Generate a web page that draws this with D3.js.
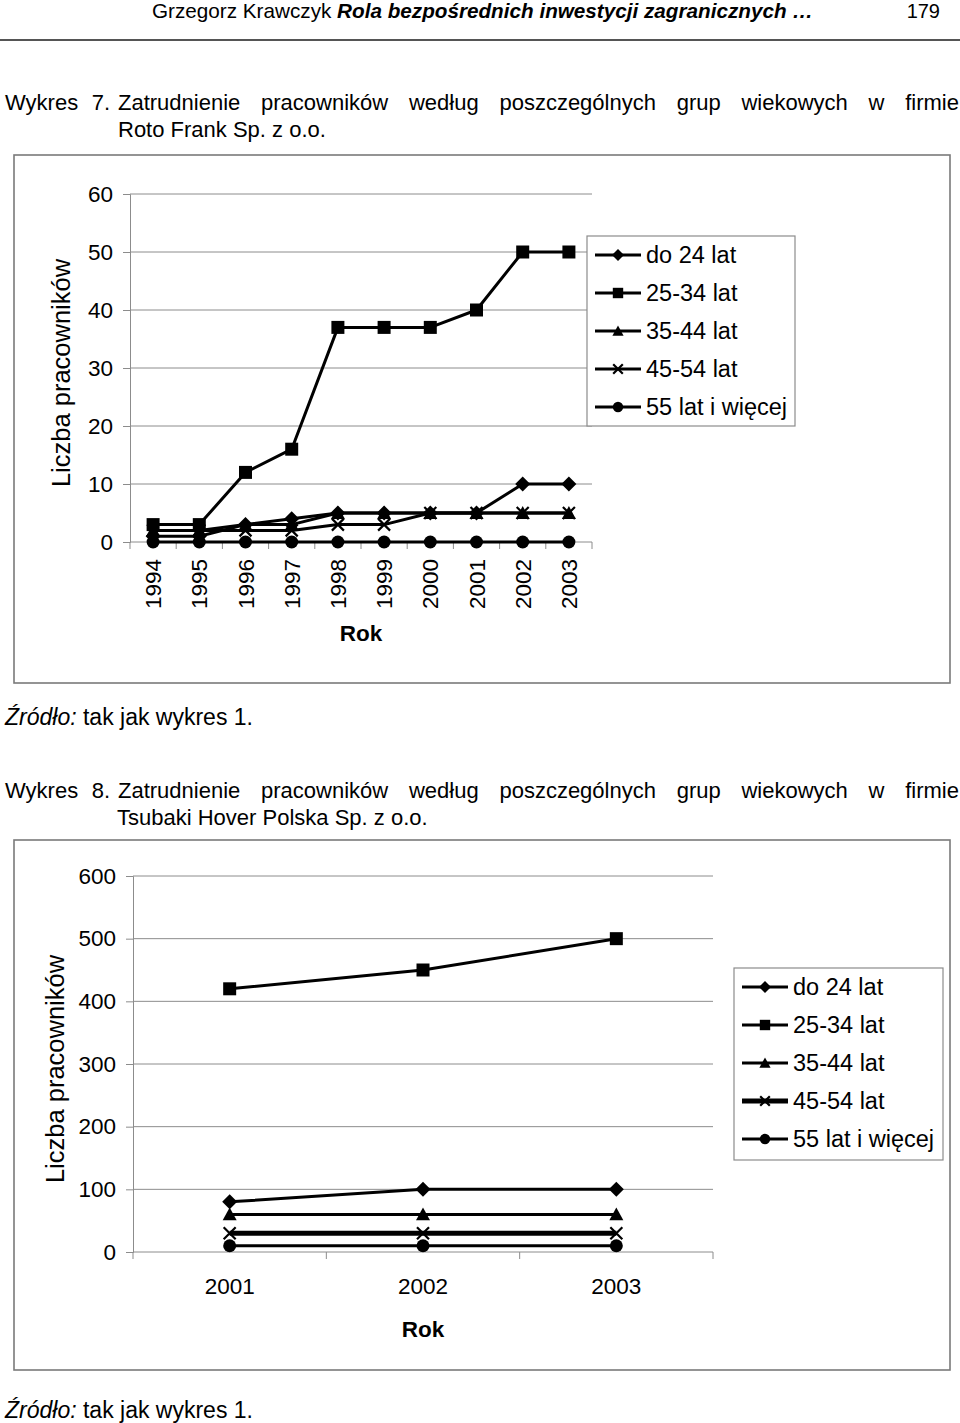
<!DOCTYPE html>
<html>
<head lang="pl">
  <meta charset="UTF-8">
  <title>Wykres 7 i 8</title>
</head>
<style>
  body { margin: 0; background: #fff; }
  svg text { font-family: "Liberation Sans", Arial, Helvetica, sans-serif; fill: #000; }
  .grid line { stroke: #8c8c8c; stroke-width: 1; }
  .axis path, .axis line { stroke: #8c8c8c; stroke-width: 1; }
  .frame { fill: none; stroke: #7a7a7a; stroke-width: 1.6; }
  .series { fill: none; stroke: #000; stroke-width: 3; stroke-linejoin: round; }
</style>
<body>

<svg id="page" width="960" height="1423"></svg>

<script src="https://cdn.jsdelivr.net/npm/d3@7"></script>
<script>
  // --- data ---
  var seriesNames = ['do 24 lat', '25-34 lat', '35-44 lat', '45-54 lat', '55 lat i więcej'];
  var markerTypes = ['diamond', 'square', 'triangle', 'x', 'circle'];

  // Wykres 7: Roto Frank
  var years7 = ['1994', '1995', '1996', '1997', '1998', '1999', '2000', '2001', '2002', '2003'];
  var do24_7   = [1, 1, 3, 4, 5, 5, 5, 5, 10, 10];
  var a2534_7  = [3, 3, 12, 16, 37, 37, 37, 40, 50, 50];
  var a3544_7  = [2, 2, 3, 3, 5, 5, 5, 5, 5, 5];
  var a4554_7  = [2, 2, 2, 2, 3, 3, 5, 5, 5, 5];
  var a55_7    = [0, 0, 0, 0, 0, 0, 0, 0, 0, 0];
  var yTicks7  = [0, 10, 20, 30, 40, 50, 60];

  // Wykres 8: Tsubaki Hover Polska
  var years8 = ['2001', '2002', '2003'];
  var do24_8   = [80, 100, 100];
  var a2534_8  = [420, 450, 500];
  var a3544_8  = [60, 60, 60];
  var a4554_8  = [30, 30, 30];
  var a55_8    = [10, 10, 10];
  var yTicks8  = [0, 100, 200, 300, 400, 500, 600];

  var svg = d3.select('#page');

  // --- page text ---
  var head = svg.append('text').attr('x', 152).attr('y', 18).style('font-size', '20.7px');
  head.append('tspan').text('Grzegorz Krawczyk ');
  head.append('tspan').style('font-weight', 'bold').style('font-style', 'italic')
    .text('Rola bezpośrednich inwestycji zagranicznych …');
  svg.append('text').attr('x', 940).attr('y', 18).attr('text-anchor', 'end')
    .style('font-size', '20px').text('179');
  svg.append('line').attr('x1', 0).attr('x2', 960).attr('y1', 40).attr('y2', 40)
    .attr('stroke', '#555').attr('stroke-width', 2);

  title(svg, 'Wykres 7.', 'Zatrudnienie pracowników według poszczególnych grup wiekowych w firmie', 110);
  svg.append('text').attr('x', 118).attr('y', 137).style('font-size', '22px').text('Roto Frank Sp. z o.o.');
  source(svg, 725);

  title(svg, 'Wykres 8.', 'Zatrudnienie pracowników według poszczególnych grup wiekowych w firmie', 798);
  svg.append('text').attr('x', 117).attr('y', 825).style('font-size', '22px').text('Tsubaki Hover Polska Sp. z o.o.');
  source(svg, 1418);

  // --- charts ---
  drawChart({
    frame: [14, 155, 950, 683],
    x0: 130, x1: 592, yTop: 194, yBottom: 542,
    cats: years7, ticks: yTicks7,
    values: [do24_7, a2534_7, a3544_7, a4554_7, a55_7],
    widths: [3, 3, 3, 3, 3],
    rotate: true, rokY: 641,
    yLabelX: 70, legend: [587, 236, 208, 190]
  });

  drawChart({
    frame: [14, 840, 950, 1370],
    x0: 133, x1: 713, yTop: 876, yBottom: 1252,
    cats: years8, ticks: yTicks8,
    values: [do24_8, a2534_8, a3544_8, a4554_8, a55_8],
    widths: [3, 3, 3, 5, 3],
    rotate: false, rokY: 1337,
    yLabelX: 64, legend: [734, 968, 209, 192]
  });

  function drawChart(c) {
    var g = svg.append('g');
    g.append('rect').attr('class', 'frame')
      .attr('x', c.frame[0]).attr('y', c.frame[1])
      .attr('width', c.frame[2] - c.frame[0]).attr('height', c.frame[3] - c.frame[1]);

    var x = d3.scaleBand().domain(c.cats).range([c.x0, c.x1]).padding(0);
    var y = d3.scaleLinear().domain([0, d3.max(c.ticks)]).range([c.yBottom, c.yTop]);
    var cx = function(d) { return x(d) + x.bandwidth() / 2; };

    // gridlines
    g.append('g').attr('class', 'grid').selectAll('line')
      .data(c.ticks.slice(1)).enter().append('line')
      .attr('x1', c.x0).attr('x2', c.x1)
      .attr('y1', y).attr('y2', y);

    // y axis
    var ya = g.append('g').attr('class', 'axis').attr('transform', 'translate(' + c.x0 + ',0)')
      .call(d3.axisLeft(y).tickValues(c.ticks).tickSize(7).tickPadding(10));
    ya.selectAll('text').style('font-size', '22.5px').style('font-family', '"Liberation Sans", Arial, sans-serif')
      .attr('fill', '#000');

    // x axis with ticks at category borders
    var xa = g.append('g').attr('class', 'axis');
    xa.append('line').attr('x1', c.x0).attr('x2', c.x1).attr('y1', c.yBottom).attr('y2', c.yBottom);
    xa.selectAll('.tk').data(c.cats.concat(['end'])).enter().append('line')
      .attr('x1', function(d) { return d === 'end' ? c.x1 : x(d); })
      .attr('x2', function(d) { return d === 'end' ? c.x1 : x(d); })
      .attr('y1', c.yBottom).attr('y2', c.yBottom + 7);

    var labels = g.append('g').selectAll('text').data(c.cats).enter().append('text')
      .style('font-size', '22.5px').text(function(d) { return d; });
    if (c.rotate) {
      labels.attr('text-anchor', 'end')
        .attr('transform', function(d) { return 'translate(' + (cx(d) + 8) + ',' + (c.yBottom + 17) + ') rotate(-90)'; });
    } else {
      labels.attr('text-anchor', 'middle').attr('x', cx).attr('y', c.yBottom + 42);
    }

    g.append('text').attr('x', (c.x0 + c.x1) / 2).attr('y', c.rokY).attr('text-anchor', 'middle')
      .style('font-size', '22.5px').style('font-weight', 'bold').text('Rok');

    g.append('text').attr('text-anchor', 'middle')
      .attr('transform', 'translate(' + c.yLabelX + ',' + ((c.yTop + c.yBottom) / 2 + 5) + ') rotate(-90)')
      .style('font-size', '25.5px').text('Liczba pracowników');

    // series
    var line = d3.line().x(function(d, i) { return cx(c.cats[i]); }).y(function(d) { return y(d); });
    c.values.forEach(function(vals, s) {
      g.append('path').attr('class', 'series').attr('d', line(vals))
        .style('stroke-width', c.widths[s]);
      g.selectAll('.m' + s).data(vals).enter().append('path')
        .attr('d', marker(markerTypes[s]))
        .attr('transform', function(d, i) { return 'translate(' + cx(c.cats[i]) + ',' + y(d) + ')'; })
        .call(markerStyle, markerTypes[s]);
    });

    // legend
    var L = c.legend;
    var lg = g.append('g').attr('transform', 'translate(' + L[0] + ',' + L[1] + ')');
    lg.append('rect').attr('width', L[2]).attr('height', L[3])
      .attr('fill', '#fff').attr('stroke', '#8c8c8c').attr('stroke-width', 1.2);
    seriesNames.forEach(function(name, s) {
      var ey = 19 + s * 38;
      lg.append('line').attr('x1', 8).attr('x2', 54).attr('y1', ey).attr('y2', ey)
        .attr('stroke', '#000').attr('stroke-width', c.widths[s]);
      lg.append('path').attr('d', marker(markerTypes[s], 0.8))
        .attr('transform', 'translate(31,' + ey + ')').call(markerStyle, markerTypes[s]);
      lg.append('text').attr('x', 59).attr('y', ey + 8).style('font-size', '23.5px').text(name);
    });
  }

  function marker(type, k) {
    k = k || 1;
    if (type === 'diamond') { var s = 7.5 * k; return 'M0,' + -s + 'L' + s + ',0L0,' + s + 'L' + -s + ',0Z'; }
    if (type === 'square') { var h = 6.5 * k; return 'M' + -h + ',' + -h + 'H' + h + 'V' + h + 'H' + -h + 'Z'; }
    if (type === 'triangle') { var t = 7 * k; return 'M0,' + -t + 'L' + t + ',' + (t * 0.85) + 'L' + -t + ',' + (t * 0.85) + 'Z'; }
    if (type === 'x') { var a = 6 * k; return 'M' + -a + ',' + -a + 'L' + a + ',' + a + 'M' + -a + ',' + a + 'L' + a + ',' + -a; }
    var r = 6.5 * k;
    return 'M' + r + ',0A' + r + ',' + r + ' 0 1,1 ' + -r + ',0A' + r + ',' + r + ' 0 1,1 ' + r + ',0Z';
  }

  function markerStyle(sel, type) {
    if (type === 'x') sel.attr('fill', 'none').attr('stroke', '#000').attr('stroke-width', 2.2);
    else sel.attr('fill', '#000').attr('stroke', 'none');
  }

  // "Wykres N." at the margin, the rest justified between x=118 and the right edge
  function title(parent, prefix, str, yy) {
    var pre = prefix.split(' ');
    parent.append('text').attr('x', 5).attr('y', yy).style('font-size', '22px').text(pre[0]);
    parent.append('text').attr('x', 110).attr('y', yy).attr('text-anchor', 'end')
      .style('font-size', '22px').text(pre[1]);
    var words = str.split(' ');
    var ts = words.map(function(w) {
      return parent.append('text').attr('y', yy).style('font-size', '22px').text(w);
    });
    var widths = ts.map(function(t) { return t.node().getComputedTextLength(); });
    var gap = (959 - 118 - d3.sum(widths)) / (words.length - 1);
    var cur = 118;
    ts.forEach(function(t, i) { t.attr('x', cur); cur += widths[i] + gap; });
  }

  function source(parent, yy) {
    var t = parent.append('text').attr('x', 5).attr('y', yy).style('font-size', '23px');
    t.append('tspan').style('font-style', 'italic').text('Źródło:');
    t.append('tspan').text(' tak jak wykres 1.');
  }
</script>
</body>
</html>
